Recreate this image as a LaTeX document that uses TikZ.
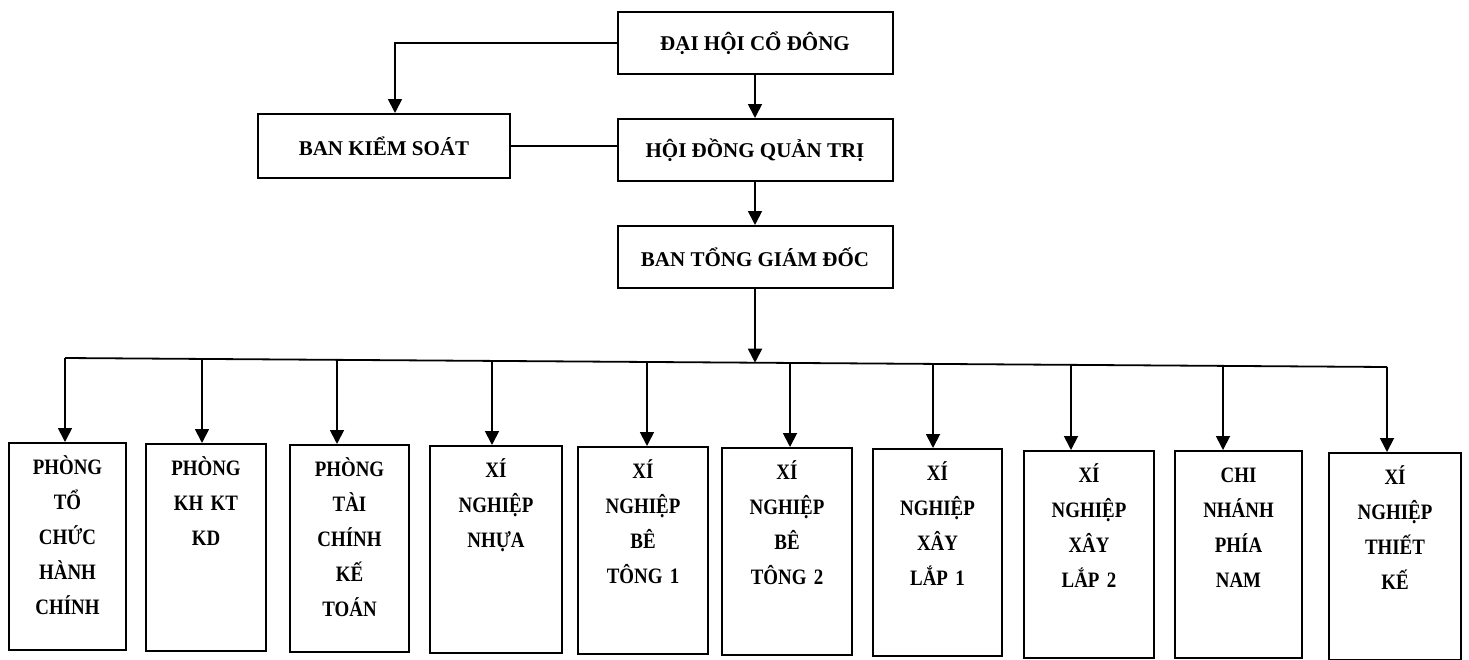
\documentclass[tikz,border=0pt]{standalone}
\usepackage{fontspec}
\setmainfont{Liberation Serif}
\newfontfamily\narrowserif{Liberation Serif}[FakeStretch=0.86]
\usetikzlibrary{arrows.meta}
\begin{document}
\begin{tikzpicture}[x=1pt,y=-1pt,
  box/.style={draw, line width=2pt, inner sep=0pt},
  topbox/.style={box, minimum width=275pt, minimum height=62pt, font=\bfseries\fontsize{21}{24}\selectfont},
  colbox/.style={box, minimum height=207pt, anchor=north},
  col/.style={font=\narrowserif\bfseries\fontsize{22}{35}\selectfont, align=center, text width=130pt, inner sep=0pt, anchor=base},
  arr/.style={line width=1.8pt, -{Triangle[width=14pt,length=14pt]}},
  ln/.style={line width=1.8pt}]
\useasboundingbox[fill=white] (0,0) rectangle (1469,659);

% top part
\node[topbox] (dh) at (755,43) {ĐẠI HỘI CỔ ĐÔNG};
\node[topbox] (hd) at (755,150) {HỘI ĐỒNG QUẢN TRỊ};
\node[topbox] (tg) at (755,257) {BAN TỔNG GIÁM ĐỐC};
\node[topbox, minimum width=252pt, minimum height=64pt] (bks) at (384,146) {BAN KIỂM SOÁT};

\draw[arr] (dh.west) -| ([xshift=11pt]bks.north);
\draw[arr] (dh.south) -- (hd.north);
\draw[arr] (hd.south) -- (tg.north);
\draw[ln] (bks.east) -- (bks.east -| hd.west);

% bottom boxes
\node[colbox, minimum width=117pt] (b1) at (67.5,442) {};
\node[colbox, minimum width=120pt] (b2) at (206,443) {};
\node[colbox, minimum width=119pt] (b3) at (349.5,444) {};
\node[colbox, minimum width=132pt] (b4) at (496,445) {};
\node[colbox, minimum width=130pt] (b5) at (643,446) {};
\node[colbox, minimum width=130pt] (b6) at (787,447) {};
\node[colbox, minimum width=129pt] (b7) at (937.5,448) {};
\node[colbox, minimum width=130pt] (b8) at (1089,450) {};
\node[colbox, minimum width=127pt] (b9) at (1238.5,450) {};
\node[colbox, minimum width=132pt] (b10) at (1395,452) {};

\node[col] (t1) at (67.5,474) {PHÒNG\\TỔ\\CHỨC\\HÀNH\\CHÍNH};
\node[col] (t2) at (206,475) {PHÒNG\\KH KT\\KD};
\node[col] (t3) at (349.5,476) {PHÒNG\\TÀI\\CHÍNH\\KẾ\\TOÁN};
\node[col] (t4) at (496,477) {XÍ\\NGHIỆP\\NHỰA};
\node[col] (t5) at (643,478) {XÍ\\NGHIỆP\\BÊ\\TÔNG 1};
\node[col] (t6) at (787,479) {XÍ\\NGHIỆP\\BÊ\\TÔNG 2};
\node[col] (t7) at (937.5,480) {XÍ\\NGHIỆP\\XÂY\\LẮP 1};
\node[col] (t8) at (1089,482) {XÍ\\NGHIỆP\\XÂY\\LẮP 2};
\node[col] (t9) at (1238.5,482) {CHI\\NHÁNH\\PHÍA\\NAM};
\node[col] (t10) at (1395,484) {XÍ\\NGHIỆP\\THIẾT\\KẾ};

% bus
\coordinate (bus) at (755,362.7);
\coordinate (d1) at (65,358);
\coordinate (d2) at (202,358.9);
\coordinate (d3) at (337,359.9);
\coordinate (d4) at (492,360.9);
\coordinate (d5) at (647,362);
\coordinate (d6) at (790,362.9);
\coordinate (d7) at (933,363.9);
\coordinate (d8) at (1071,364.8);
\coordinate (d9) at (1223,365.9);
\coordinate (d10) at (1387,367);

\draw[arr] (tg.south) -- (bus);
\draw[ln] (d1) -- (d10);
\foreach \i in {1,...,10} {
  \draw[arr] (d\i) -- (d\i |- b\i.north);
}
\end{tikzpicture}
\end{document}
